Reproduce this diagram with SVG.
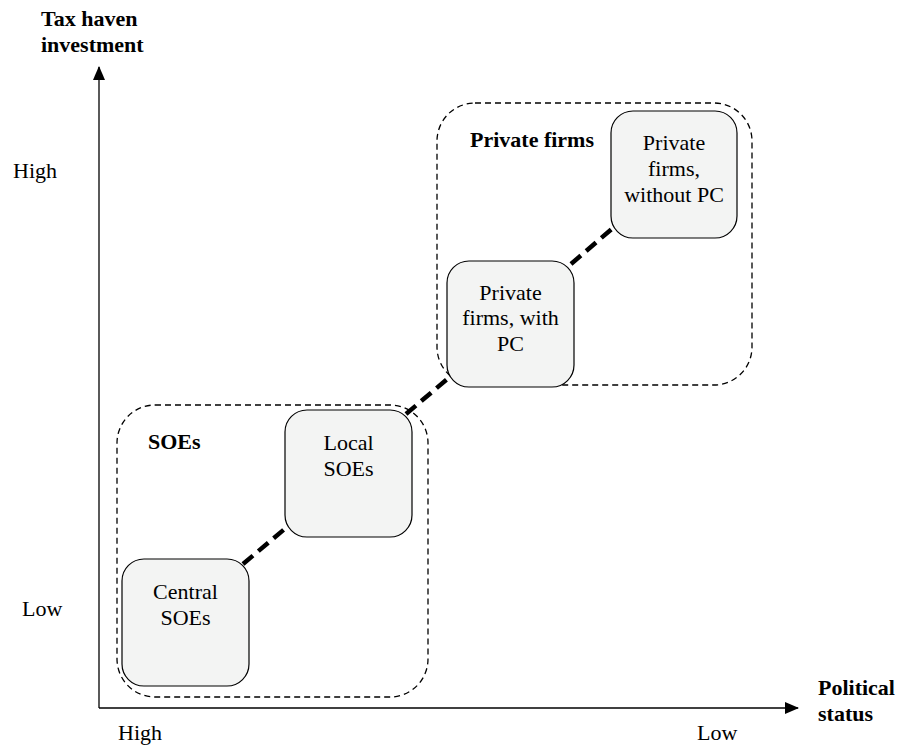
<svg xmlns="http://www.w3.org/2000/svg" width="909" height="747" viewBox="0 0 909 747">
<style>
text{font-family:"Liberation Serif","Times New Roman",serif;font-size:22px;fill:#000}
.b{font-weight:bold}
.c{text-anchor:middle}
.grp{fill:none;stroke:#000;stroke-width:1.3;stroke-dasharray:6 4}
.node{fill:#f3f4f3;stroke:#000;stroke-width:1.2}
.link{fill:none;stroke:#000;stroke-width:4.5;stroke-dasharray:13 7}
.axis{fill:none;stroke:#000;stroke-width:1.3}
</style>
<defs>
<marker id="ah" markerWidth="14" markerHeight="12" refX="13" refY="6" orient="auto" markerUnits="userSpaceOnUse">
<path d="M0,0 L14,6 L0,12 Z" fill="#000"/>
</marker>
</defs>
<rect width="909" height="747" fill="#fff"/>
<g id="axes">
<path class="axis" d="M99,708 L99,67" marker-end="url(#ah)"/>
<path class="axis" d="M99,708 L798,708" marker-end="url(#ah)"/>
<text class="b" x="41" y="26">Tax haven</text>
<text class="b" x="41" y="52">investment</text>
<text class="b" x="818" y="695">Political</text>
<text class="b" x="818" y="721">status</text>
<text x="13" y="178">High</text>
<text x="22" y="616">Low</text>
<text x="118" y="740">High</text>
<text x="697" y="740">Low</text>
</g>
<g id="group-soes">
<rect class="grp" x="117" y="405" width="311" height="292" rx="38"/>
<text class="b" x="148" y="449">SOEs</text>
</g>
<g id="group-private">
<rect class="grp" x="437" y="103" width="315" height="282" rx="38"/>
<text class="b" x="470" y="147">Private firms</text>
</g>
<g id="connectors">
<line class="link" x1="243" y1="564" x2="287" y2="527"/>
<line class="link" x1="406" y1="414" x2="452" y2="375"/>
<line class="link" x1="571" y1="264" x2="614" y2="227"/>
</g>
<g id="central-soes">
<rect class="node" x="122" y="559" width="127" height="127" rx="22"/>
<text class="c" x="185.5" y="599">Central</text>
<text class="c" x="185.5" y="625">SOEs</text>
</g>
<g id="local-soes">
<rect class="node" x="285" y="410" width="127" height="127" rx="22"/>
<text class="c" x="348.5" y="450">Local</text>
<text class="c" x="348.5" y="476">SOEs</text>
</g>
<g id="private-with-pc">
<rect class="node" x="447" y="261" width="127" height="126" rx="22"/>
<text class="c" x="510.5" y="300">Private</text>
<text class="c" x="510.5" y="325">firms, with</text>
<text class="c" x="510.5" y="351">PC</text>
</g>
<g id="private-without-pc">
<rect class="node" x="611" y="111" width="126" height="127" rx="22"/>
<text class="c" x="674" y="150">Private</text>
<text class="c" x="674" y="176">firms,</text>
<text class="c" x="674" y="202">without PC</text>
</g>
</svg>
